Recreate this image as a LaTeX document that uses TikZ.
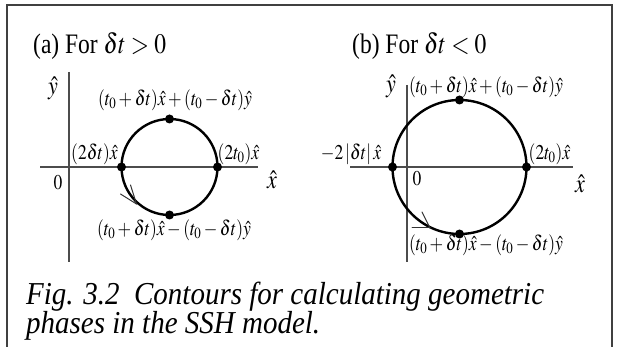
\documentclass[tikz,border=0pt]{standalone}
\usepackage{mathptmx}
\usepackage{fontspec}
\setmainfont{Liberation Serif}
\usepackage{graphicx}
\newcommand{\vst}[1]{\scalebox{1}[1.2]{#1}}
\newcommand{\vsc}[1]{\scalebox{1}[1.1]{#1}}
\begin{document}
\begin{tikzpicture}[x=1pt,y=-1pt,
  axline/.style={draw=black!70,line width=1.1pt},
  contour/.style={draw=black,line width=2.4pt},
  dotnode/.style={circle,fill=black,inner sep=0pt,minimum size=9pt},
  barb/.style={draw=black!80,line width=1pt,line cap=round},
  framestyle/.style={draw=black!75,line width=1.6pt},
  ttl/.style={inner sep=0pt,anchor=base west,font=\fontsize{23.5}{26}\selectfont},
  lab/.style={inner sep=0pt,font=\fontsize{17.5}{20}\selectfont},
  axl/.style={inner sep=0pt,font=\fontsize{22}{24}\selectfont},
  captext/.style={inner sep=0pt,anchor=base west,font=\fontsize{29}{30}\selectfont\itshape}]
\useasboundingbox (0,0) rectangle (618,347);
% frame
\coordinate (f1) at (7,350);
\coordinate (f2) at (7,5);
\coordinate (f3) at (612,5);
\coordinate (f4) at (612,350);
\draw[framestyle] (f1) -- (f2) -- (f3) -- (f4);
% ---------------- panel (a)
\node[ttl] (ta) at (33,54) {\vst{(a) For $\delta t>0$}};
\coordinate (ay1) at (69,72);
\coordinate (ay2) at (69,262);
\coordinate (ax1) at (40,167);
\coordinate (ax2) at (258,167);
\draw[axline] (ay1) -- (ay2);
\draw[axline] (ax1) -- (ax2);
\coordinate (ca) at (169.5,167);
\draw[contour] (ca) circle[radius=48pt];
\node[dotnode] (aL) at (121.5,167) {};
\node[dotnode] (aR) at (217.5,167) {};
\node[dotnode] (aT) at (169.5,119) {};
\node[dotnode] (aB) at (169.5,215) {};
\coordinate (atip) at (136.5,204);
\draw[barb] (atip) -- ++(-16,-10);
\draw[barb] (atip) -- ++(-6,-19);
\node[axl] (ayl) at (53,88) {\vst{$\hat{y}$}};
\node[axl] (axl) at (272,180) {\vst{$\hat{x}$}};
\node[lab] (a0) at (58,183) {\vst{$0$}};
\node[lab] (aTl) at (175,100) {\vst{$(t_0+\delta t)\hat{x}+(t_0-\delta t)\hat{y}$}};
\node[lab] (aLl) at (94.5,154) {\vst{$(2\delta t)\hat{x}$}};
\node[lab] (aRl) at (238.5,154) {\vst{$(2t_0)\hat{x}$}};
\node[lab] (aBl) at (174,230) {\vst{$(t_0+\delta t)\hat{x}-(t_0-\delta t)\hat{y}$}};
% ---------------- panel (b)
\node[ttl] (tb) at (352,54) {\vst{(b) For $\delta t<0$}};
\coordinate (by1) at (407,85);
\coordinate (by2) at (407,262);
\coordinate (bx1) at (350,167);
\coordinate (bx2) at (573,167);
\draw[axline] (by1) -- (by2);
\draw[axline] (bx1) -- (bx2);
\coordinate (cb) at (459.5,167);
\draw[contour] (cb) circle[radius=67pt];
\node[dotnode] (bL) at (392.5,167) {};
\node[dotnode] (bR) at (526.5,167) {};
\node[dotnode] (bT) at (459.5,100) {};
\node[dotnode] (bB) at (459.5,234) {};
\coordinate (btip) at (430,228);
\draw[barb] (btip) -- ++(-18,0);
\draw[barb] (btip) -- ++(-8,-16);
\node[axl] (byl) at (391,86) {\vst{$\hat{y}$}};
\node[axl] (bxl) at (580,184) {\vst{$\hat{x}$}};
\node[lab] (b0) at (417,179) {\vst{$0$}};
\node[lab] (bTl) at (486,87) {\vst{$(t_0+\delta t)\hat{x}+(t_0-\delta t)\hat{y}$}};
\node[lab] (bLl) at (351,154) {\vst{$-2\,|\delta t|\,\hat{x}$}};
\node[lab] (bRl) at (549.5,154) {\vst{$(2t_0)\hat{x}$}};
\node[lab] (bBl) at (486,245) {\vst{$(t_0+\delta t)\hat{x}-(t_0-\delta t)\hat{y}$}};
% ---------------- caption
\node[captext] (c1) at (26,304) {\vsc{Fig. 3.2\ \ Contours for calculating geometric}};
\node[captext] (c2) at (26,333) {\vsc{phases in the SSH model.}};
\end{tikzpicture}
\end{document}
